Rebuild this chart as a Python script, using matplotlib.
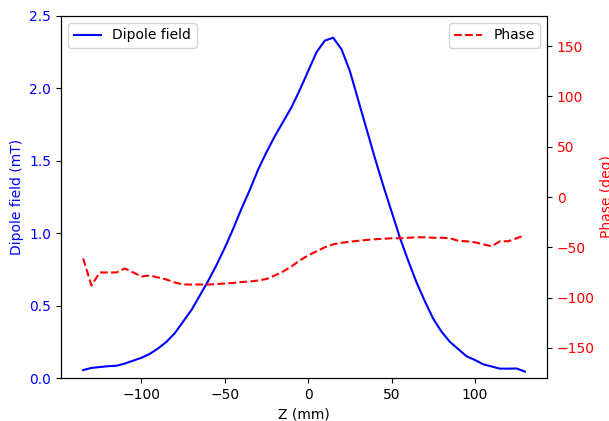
import numpy as np
import matplotlib
matplotlib.use("Agg")
import matplotlib.pyplot as plt

# Z positions (mm), 5 mm step
z_mm = [-135, -130, -125, -120, -115, -110, -105, -100, -95, -90,
        -85, -80, -75, -70, -65, -60, -55, -50, -45, -40,
        -35, -30, -25, -20, -15, -10, -5, 0, 5, 10,
        15, 20, 25, 30, 35, 40, 45, 50, 55, 60,
        65, 70, 75, 80, 85, 90, 95, 100, 105, 110,
        115, 120, 125, 130]

# dipole field (mT)
field_mT = [0.055, 0.07, 0.076, 0.082, 0.085, 0.10, 0.12, 0.14, 0.167, 0.205,
            0.25, 0.31, 0.39, 0.47, 0.57, 0.67, 0.78, 0.90, 1.03, 1.17,
            1.30, 1.44, 1.56, 1.67, 1.77, 1.87, 1.99, 2.12, 2.25, 2.33,
            2.35, 2.27, 2.12, 1.92, 1.72, 1.52, 1.33, 1.15, 0.97, 0.81,
            0.66, 0.53, 0.41, 0.32, 0.25, 0.20, 0.15, 0.125, 0.095, 0.08,
            0.065, 0.065, 0.066, 0.045]

# phase (deg)
phase_deg = [-61, -88, -75, -75, -75, -71, -75, -79, -78, -80,
             -82, -85, -87, -87, -87, -87, -86.5, -86, -85.5, -84.5,
             -84, -83, -81.5, -78, -74, -69, -63, -58, -54, -50,
             -47, -45.5, -44.5, -43.5, -42.7, -42, -41.5, -41, -41, -40.5,
             -40, -40, -40.5, -40.5, -41, -43.5, -44, -45, -47, -49,
             -44, -44, -41, -38]


def plot():
    fig = plt.figure(figsize=(6.09, 4.21), dpi=100)
    ax1 = fig.add_axes([0.1002, 0.102, 0.798, 0.86])

    ax1.plot(z_mm, field_mT, color="blue", label="Dipole field")
    ax1.set_xlabel("Z (mm)")
    ax1.set_ylabel("Dipole field (mT)", color="blue")
    ax1.tick_params(axis="y", labelcolor="blue")
    ax1.set_ylim(0, 2.5)
    ax1.legend(loc="upper left")

    ax2 = ax1.twinx()
    ax2.plot(z_mm, phase_deg, color="red", linestyle="--", label="Phase")
    ax2.set_ylabel("Phase (deg)", color="red")
    ax2.tick_params(axis="y", labelcolor="red")
    ax2.set_ylim(-180, 180)
    ax2.set_yticks(np.arange(-150, 151, 50))
    ax2.legend(loc="upper right")

    fig.savefig("out.png", dpi=100)


if __name__ == "__main__":
    plot()
